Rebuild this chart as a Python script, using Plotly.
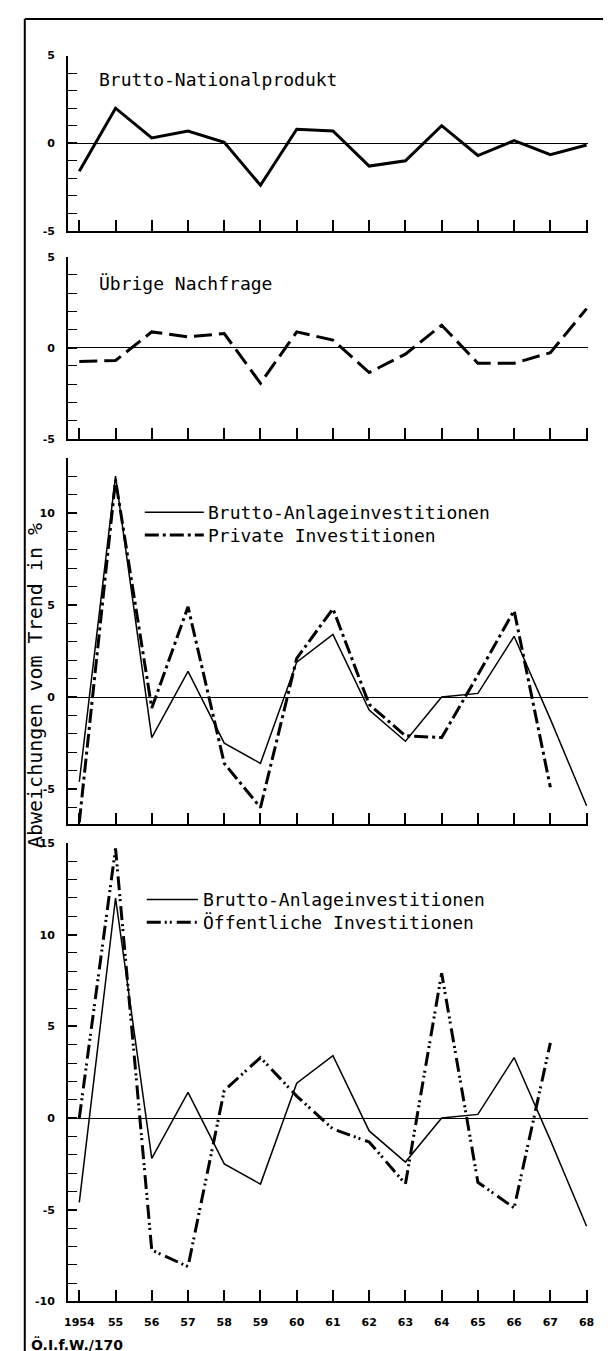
import plotly.graph_objects as go

W, H = 611, 1351

years = list(range(1954, 1969))
year_labels = ["1954", "55", "56", "57", "58", "59", "60", "61", "62", "63",
               "64", "65", "66", "67", "68"]

bnp = [-1.6, 2.0, 0.3, 0.7, 0.05, -2.4, 0.8, 0.7, -1.3, -1.0, 1.0, -0.7, 0.15, -0.65, -0.1]
uebrige = [-0.76, -0.7, 0.87, 0.6, 0.78, -1.95, 0.87, 0.42, -1.36, -0.35, 1.24, -0.85, -0.85, -0.27, 2.15]
brutto = [-4.6, 12.0, -2.2, 1.4, -2.5, -3.6, 1.9, 3.4, -0.7, -2.4, 0.0, 0.2, 3.3, -1.2, -5.9]
private = [-6.8, 11.8, -0.6, 4.9, -3.6, -6.0, 2.1, 4.8, -0.4, -2.1, -2.2, 1.2, 4.7, -4.9, None]
oeff = [0.0, 14.7, -7.2, -8.1, 1.5, 3.3, 1.2, -0.6, -1.3, -3.6, 7.9, -3.5, -4.9, 4.1, None]

FONT = "DejaVu Sans"
TFONT = "DejaVu Sans Mono"

DASH_PRIV = "14px,4px,3px,4px"
DASH_OEFF = "14px,4px,2px,3px,2px,5px"
DASH_UEB = "18px,7px"


def py(y):
    return 1 - y / H


def px(x):
    return x / W


x_dom = [px(57), px(586)]
x_rng = [1953.69, 1968.05]

panels = [
    # (top px, bottom px, range, major ticks)
    (42, 219, [-5, 5], [-5, 0, 5]),
    (245, 429, [-5, 5], [-5, 0, 5]),
    (448, 818, [-6.9, 13], [-5, 0, 5, 10]),
    (837, 1300, [-10, 15], [-10, -5, 0, 5, 10, 15]),
]

fig = go.Figure()

fig.add_trace(go.Scatter(x=years, y=bnp, xaxis="x", yaxis="y", mode="lines",
                         line=dict(color="black", width=3)))
fig.add_trace(go.Scatter(x=years, y=uebrige, xaxis="x2", yaxis="y2", mode="lines",
                         line=dict(color="black", width=3, dash=DASH_UEB)))
fig.add_trace(go.Scatter(x=years, y=brutto, xaxis="x3", yaxis="y3", mode="lines",
                         line=dict(color="black", width=1.5)))
fig.add_trace(go.Scatter(x=years, y=private, xaxis="x3", yaxis="y3", mode="lines",
                         line=dict(color="black", width=3, dash=DASH_PRIV)))
fig.add_trace(go.Scatter(x=years, y=brutto, xaxis="x4", yaxis="y4", mode="lines",
                         line=dict(color="black", width=1.5)))
fig.add_trace(go.Scatter(x=years, y=oeff, xaxis="x4", yaxis="y4", mode="lines",
                         line=dict(color="black", width=3, dash=DASH_OEFF)))

layout = dict(
    width=W, height=H,
    margin=dict(l=0, r=0, t=0, b=0),
    paper_bgcolor="white", plot_bgcolor="white",
    showlegend=False,
    font=dict(family=FONT, color="black"),
)

for i, (top, bot, rng, major) in enumerate(panels, start=1):
    sfx = "" if i == 1 else str(i)
    layout["xaxis" + sfx] = dict(
        domain=x_dom, range=x_rng, anchor="y" + sfx,
        showline=True, linecolor="black", linewidth=2,
        ticks="inside", ticklen=11, tickwidth=1.5, tickcolor="black",
        tickmode="array", tickvals=years, ticktext=year_labels,
        showticklabels=(i == 4), ticklabelstandoff=9,
        tickfont=dict(family=FONT, size=11, weight="bold"),
        showgrid=False, zeroline=False,
    )
    layout["yaxis" + sfx] = dict(
        domain=[py(bot), py(top)], range=rng, anchor="x" + sfx,
        showline=True, linecolor="black", linewidth=2,
        ticks="inside", ticklen=9, tickwidth=1.5, tickcolor="black",
        tickmode="array", tickvals=major,
        ticktext=[("-" + str(-v)) if v < 0 else str(v) for v in major],
        ticklabelstandoff=9,
        tickfont=dict(family=FONT, size=11, weight="bold"),
        minor=dict(tickmode="linear", tick0=0, dtick=1, ticks="inside",
                   ticklen=9, tickwidth=1.2, tickcolor="black"),
        showgrid=False,
        zeroline=True, zerolinecolor="black", zerolinewidth=1.2,
    )

annotations = [
    dict(text="Brutto-Nationalprodukt", x=px(86), y=py(66), xanchor="left", yanchor="middle",
         font=dict(family=TFONT, size=18)),
    dict(text="Übrige Nachfrage", x=px(86), y=py(272), xanchor="left", yanchor="middle",
         font=dict(family=TFONT, size=18)),
    dict(text="Brutto-Anlageinvestitionen<br>Private Investitionen", x=px(197), y=py(515),
         xanchor="left", yanchor="middle", align="left",
         font=dict(family=TFONT, size=18)),
    dict(text="Brutto-Anlageinvestitionen<br>Öffentliche Investitionen", x=px(192), y=py(906),
         xanchor="left", yanchor="middle", align="left",
         font=dict(family=TFONT, size=18)),
    dict(text="Abweichungen vom Trend in %", x=px(24), y=py(678), xanchor="center", yanchor="middle",
         textangle=-90, font=dict(family=TFONT, size=20)),
    dict(text="Ö.I.f.W./170", x=px(17), y=py(1343), xanchor="left", yanchor="middle",
         font=dict(size=14, weight="bold")),
]
for a in annotations:
    a.update(xref="paper", yref="paper", showarrow=False)
layout["annotations"] = annotations

shapes = [
    # outer frame
    dict(type="line", x0=px(13), x1=px(606), y0=py(5), y1=py(5), line=dict(color="black", width=2)),
    dict(type="line", x0=px(13), x1=px(13), y0=py(5), y1=py(1351), line=dict(color="black", width=2)),
    dict(type="line", x0=px(605), x1=px(605), y0=py(5), y1=py(1351), line=dict(color="black", width=4)),
    # legend samples
    dict(type="line", x0=px(135), x1=px(195), y0=py(503), y1=py(503), line=dict(color="black", width=1.5)),
    dict(type="line", x0=px(135), x1=px(195), y0=py(526), y1=py(526),
         line=dict(color="black", width=3, dash=DASH_PRIV)),
    dict(type="line", x0=px(137), x1=px(189), y0=py(894), y1=py(894), line=dict(color="black", width=1.5)),
    dict(type="line", x0=px(137), x1=px(189), y0=py(917), y1=py(917),
         line=dict(color="black", width=3, dash=DASH_OEFF)),
]
for s in shapes:
    s.update(xref="paper", yref="paper")
layout["shapes"] = shapes

fig.update_layout(**layout)
fig.write_html("out.html")
